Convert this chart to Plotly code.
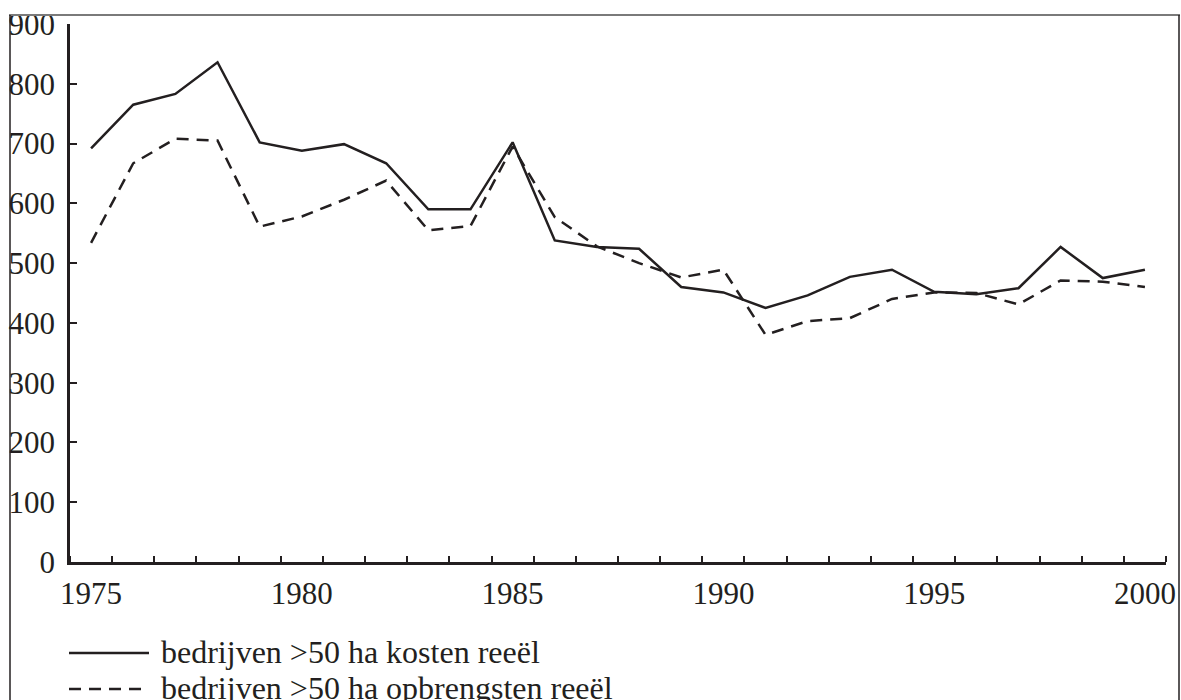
import plotly.graph_objects as go

years = list(range(1975, 2001))
kosten = [692, 765, 783, 836, 702, 688, 699, 667, 590, 590, 702, 538, 527, 524,
          460, 451, 425, 446, 477, 489, 452, 448, 458, 527, 475, 489]
opbrengsten = [534, 667, 708, 705, 561, 578, 606, 638, 555, 562, 695, 577, 528, 500,
               476, 489, 380, 403, 408, 440, 451, 450, 431, 471, 469, 460]
series_names = ["bedrijven >50 ha kosten reeël", "bedrijven >50 ha opbrengsten reeël"]
x_tick_vals = [1975, 1980, 1985, 1990, 1995, 2000]
y_tick_vals = [0, 100, 200, 300, 400, 500, 600, 700, 800, 900]

INK = "#231f20"
FONT = "'Liberation Serif', 'Times New Roman', Times, serif"
DASH = "12px,8px"

fig = go.Figure()
fig.add_trace(go.Scatter(x=years, y=kosten, mode="lines", name=series_names[0],
                         line=dict(color=INK, width=2.5), showlegend=False))
fig.add_trace(go.Scatter(x=years, y=opbrengsten, mode="lines", name=series_names[1],
                         line=dict(color=INK, width=2.5, dash=DASH), showlegend=False))

W, H = 1181, 700
ml, mr, mt, mb = 70, 15, 24, 138
pw, ph = W - ml - mr, H - mt - mb

def px_x(p):
    return (p - ml) / pw

def px_y(p):
    return (H - mb - p) / ph

shapes = [
    dict(type="line", xref="paper", yref="paper", x0=px_x(9), x1=px_x(1180),
         y0=px_y(15), y1=px_y(15), line=dict(color="#7a7a7a", width=2)),
    dict(type="line", xref="paper", yref="paper", x0=px_x(10), x1=px_x(10),
         y0=px_y(15), y1=px_y(710), line=dict(color=INK, width=1.5)),
    dict(type="line", xref="paper", yref="paper", x0=px_x(1179), x1=px_x(1179),
         y0=px_y(15), y1=px_y(710), line=dict(color=INK, width=1.5)),
]

# legend drawn by hand (sample line + text) so it sits exactly where the reference has it
legend_rows = [(653, None), (689, DASH)]
annotations = []
for name, (yy, dash) in zip(series_names, legend_rows):
    ln = dict(color=INK, width=2.5)
    if dash:
        ln["dash"] = dash
    shapes.append(dict(type="line", xref="paper", yref="paper",
                       x0=px_x(69), x1=px_x(149), y0=px_y(yy), y1=px_y(yy), line=ln))
    annotations.append(dict(xref="paper", yref="paper", x=px_x(159), y=px_y(yy - 1),
                            xanchor="left", yanchor="middle", showarrow=False, text=name,
                            font=dict(family=FONT, size=32, color=INK)))

fig.update_layout(
    width=W, height=H,
    margin=dict(l=ml, r=mr, t=mt, b=mb, autoexpand=False),
    paper_bgcolor="white", plot_bgcolor="white",
    font=dict(family=FONT, size=30, color=INK),
    showlegend=False,
    shapes=shapes,
    annotations=annotations,
    xaxis=dict(range=[1974.5, 2000.5], tickmode="array", tickvals=x_tick_vals,
               ticks="", showline=True, linecolor=INK, linewidth=2.5,
               showgrid=False, zeroline=False, ticklabelstandoff=2,
               minor=dict(tickmode="linear", tick0=1974.5, dtick=1, ticks="inside",
                          ticklen=6, tickwidth=2, tickcolor=INK, showgrid=False),
               tickfont=dict(family=FONT, size=31, color=INK)),
    yaxis=dict(range=[0, 900], tickmode="array", tickvals=y_tick_vals,
               ticks="inside", ticklen=7, tickwidth=2, tickcolor=INK,
               showline=True, linecolor=INK, linewidth=2.5,
               showgrid=False, zeroline=False, ticklabelstandoff=6,
               tickfont=dict(family=FONT, size=31, color=INK)),
)

fig.write_html("out.html", config={"displayModeBar": False},
               post_script="document.body.style.margin='0';document.body.style.overflow='hidden';")
